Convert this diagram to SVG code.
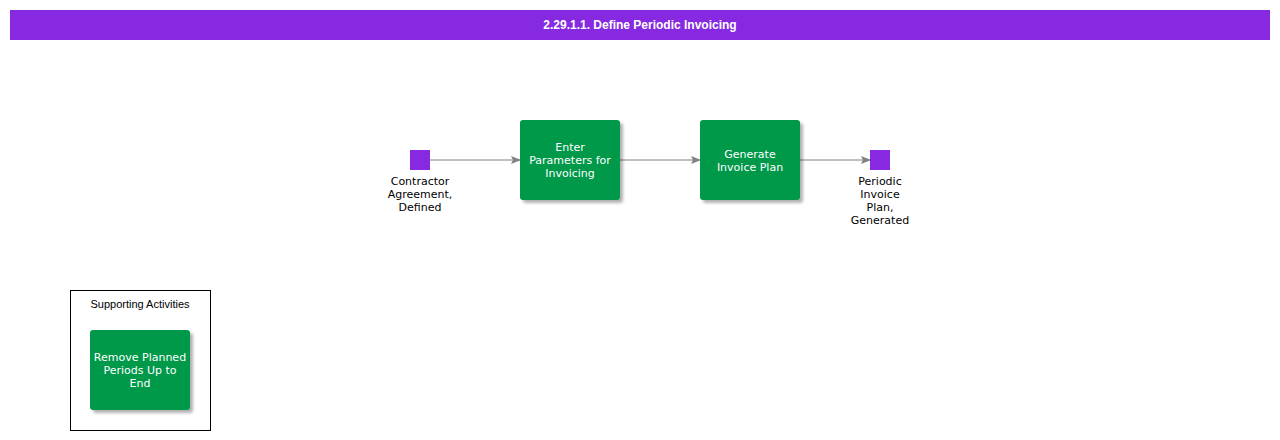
<svg xmlns="http://www.w3.org/2000/svg" width="1280" height="440" viewBox="0 0 1280 440">
<style>
.t{font-family:"DejaVu Sans",sans-serif;font-size:11px;text-anchor:middle}
.w{fill:#fff}
.act{fill:#00984a}
.ev{fill:#8629e0}
.c{stroke:#808080;stroke-width:1;fill:none;marker-end:url(#a)}
</style>
<defs>
<marker id="a" markerWidth="10" markerHeight="8" refX="9" refY="4" orient="auto" markerUnits="userSpaceOnUse"><path d="M0,0L10,4L0,8L2,4Z" fill="#808080"/></marker>
<filter id="s" x="-10%" y="-10%" width="130%" height="130%"><feDropShadow dx="3" dy="3" stdDeviation="1.5" flood-color="#000" flood-opacity="0.3"/></filter>
</defs>
<rect width="1280" height="440" fill="#fff"/>
<g id="title"><rect x="10" y="10" width="1260" height="30" fill="#8629e0"/>
<text x="640" y="29" class="t w" style="font-family:'Liberation Sans',Arial,sans-serif;font-weight:bold;font-size:12px">2.29.1.1. Define Periodic Invoicing</text></g>
<g id="connectors">
<path class="c" d="M430,160H520"/><path class="c" d="M620,160H700"/><path class="c" d="M800,160H870"/>
</g>
<g id="e1"><rect x="410" y="150" width="20" height="20" class="ev"/>
<text class="t" x="420" y="185">Contractor</text><text class="t" x="420" y="198">Agreement,</text><text class="t" x="420" y="211">Defined</text></g>
<g id="a1"><rect x="520" y="120" width="100" height="80" rx="3" class="act" filter="url(#s)"/>
<text class="t w" x="570" y="151">Enter</text><text class="t w" x="570" y="164">Parameters for</text><text class="t w" x="570" y="177">Invoicing</text></g>
<g id="a2"><rect x="700" y="120" width="100" height="80" rx="3" class="act" filter="url(#s)"/>
<text class="t w" x="750" y="158">Generate</text><text class="t w" x="750" y="171">Invoice Plan</text></g>
<g id="e2"><rect x="870" y="150" width="20" height="20" class="ev"/>
<text class="t" x="880" y="185">Periodic</text><text class="t" x="880" y="198">Invoice</text><text class="t" x="880" y="211">Plan,</text><text class="t" x="880" y="224">Generated</text></g>
<g id="support"><rect x="70.5" y="290.5" width="140" height="140" fill="none" stroke="#000"/>
<text x="140" y="308" class="t" style="font-family:'Liberation Sans',Arial,sans-serif">Supporting Activities</text></g>
<g id="a3"><rect x="90" y="330" width="100" height="80" rx="3" class="act" filter="url(#s)"/>
<text class="t w" x="140" y="361">Remove Planned</text><text class="t w" x="140" y="374">Periods Up to</text><text class="t w" x="140" y="387">End</text></g>
</svg>
